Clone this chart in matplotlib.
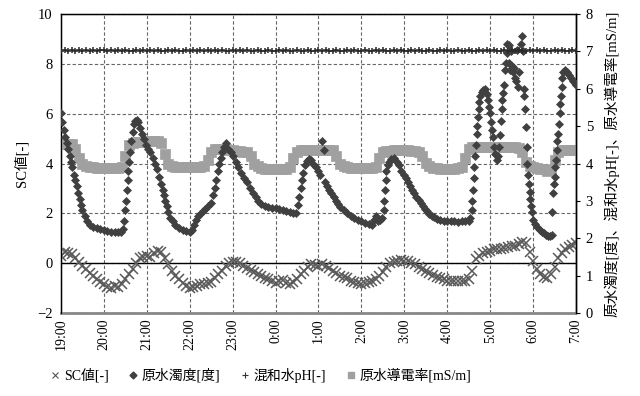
import numpy as np
import matplotlib
matplotlib.use("Agg")
import matplotlib.pyplot as plt
from matplotlib.lines import Line2D

plt.rcParams['font.family'] = ['Liberation Serif', 'Noto Sans CJK JP', 'DejaVu Sans']

# ---- data ----
tick_labels = ["19:00", "20:00", "21:00", "22:00", "23:00", "0:00", "1:00",
               "2:00", "3:00", "4:00", "5:00", "6:00", "7:00"]
minutes_5 = np.arange(0, 721, 5)  # minutes after 19:00, every 5 min

sc_value = [
    0.3, 0.45, 0.4, 0.35, 0.2, 0.05, -0.1, -0.25, -0.4, -0.5, -0.65, -0.75,
    -0.85, -0.95, -1.0, -0.9, -0.95, -0.85, -0.65, -0.45, -0.25, 0.0, 0.2, 0.25,
    0.3, 0.25, 0.4, 0.5, 0.45, 0.2, -0.05, -0.3, -0.5, -0.65, -0.8, -0.9,
    -1.0, -0.95, -0.9, -0.85, -0.85, -0.8, -0.75, -0.6, -0.45, -0.3, -0.12, 0.0,
    0.05, 0.05, 0.0, -0.1, -0.2, -0.28, -0.35, -0.45, -0.52, -0.6, -0.65, -0.72,
    -0.78, -0.7, -0.68, -0.78, -0.85, -0.75, -0.62, -0.45, -0.3, -0.15, -0.05, -0.08,
    -0.1, -0.05, -0.1, -0.2, -0.3, -0.4, -0.5, -0.55, -0.6, -0.7, -0.75, -0.8,
    -0.82, -0.8, -0.75, -0.72, -0.65, -0.5, -0.35, -0.15, 0.0, 0.05, 0.1, 0.12,
    0.1, 0.08, 0.02, -0.05, -0.15, -0.25, -0.32, -0.4, -0.48, -0.55, -0.6, -0.65,
    -0.7, -0.7, -0.72, -0.72, -0.7, -0.7, -0.65, -0.3, 0.15, 0.3, 0.4, 0.45,
    0.48, 0.55, 0.58, 0.55, 0.6, 0.65, 0.68, 0.7, 0.75, 0.85, 0.8, 0.45,
    0.1, -0.25, -0.45, -0.55, -0.6, -0.45, -0.15, 0.2, 0.42, 0.55, 0.65, 0.72,
    0.8,
]

conductivity = [
    4.52, 4.53, 4.53, 4.52, 4.4, 4.15, 3.98, 3.92, 3.9, 3.9, 3.88, 3.88,
    3.88, 3.88, 3.88, 3.88, 3.88, 3.9, 4.2, 4.5, 4.55, 4.57, 4.58, 4.58,
    4.59, 4.59, 4.6, 4.6, 4.55, 4.25, 4.0, 3.92, 3.9, 3.9, 3.9, 3.9,
    3.9, 3.9, 3.9, 3.9, 3.92, 4.1, 4.3, 4.38, 4.4, 4.4, 4.38, 4.36,
    4.35, 4.34, 4.33, 4.32, 4.3, 4.2, 4.0, 3.92, 3.88, 3.86, 3.85, 3.85,
    3.85, 3.85, 3.85, 3.85, 3.9, 4.15, 4.32, 4.35, 4.36, 4.36, 4.36, 4.36,
    4.37, 4.37, 4.37, 4.37, 4.35, 4.2, 4.0, 3.92, 3.9, 3.88, 3.88, 3.88,
    3.88, 3.87, 3.87, 3.87, 3.9, 4.15, 4.3, 4.33, 4.34, 4.35, 4.35, 4.35,
    4.35, 4.35, 4.34, 4.33, 4.3, 4.2, 4.02, 3.92, 3.88, 3.87, 3.86, 3.86,
    3.86, 3.86, 3.86, 3.87, 3.9, 4.15, 4.38, 4.44, 4.44, 4.44, 4.44, 4.44,
    4.44, 4.44, 4.44, 4.44, 4.44, 4.44, 4.44, 4.43, 4.42, 4.3, 4.05, 3.93,
    3.9, 3.88, 3.86, 3.84, 3.8, 3.82, 4.1, 4.32, 4.36, 4.36, 4.37, 4.37,
    4.37,
]

ph_value = [
    7.02, 7.04, 7.01, 7.03, 7.02, 7.05, 7.01, 7.03, 7.02, 7.04, 7.00, 7.03,
    7.03, 7.01, 7.04, 7.02, 7.03, 7.00, 7.04, 7.02, 7.01, 7.03, 7.02, 7.04,
    7.01, 7.03, 7.02, 7.05, 7.02, 7.01, 7.03, 7.02, 7.04, 7.01, 7.02, 7.03,
    7.02, 7.04, 7.01, 7.03, 7.02, 7.03, 7.00, 7.03, 7.02, 7.04, 7.01, 7.02,
    7.03, 7.01, 7.04, 7.02, 7.03, 7.01, 7.02, 7.04, 7.02, 7.01, 7.03, 7.02,
    7.02, 7.03, 7.01, 7.04, 7.02, 7.02, 7.03, 7.01, 7.02, 7.04, 7.02, 7.01,
    7.03, 7.02, 7.04, 7.01, 7.02, 7.03, 7.02, 7.01, 7.03, 7.02, 7.04, 7.02,
    7.01, 7.03, 7.02, 7.02, 7.04, 7.01, 7.03, 7.02, 7.01, 7.03, 7.02, 7.04,
    7.02, 7.01, 7.03, 7.02, 7.04, 7.01, 7.02, 7.03, 7.01, 7.02, 7.04, 7.02,
    7.03, 7.01, 7.02, 7.04, 7.02, 7.01, 7.03, 7.02, 7.02, 7.04, 7.01, 7.03,
    7.02, 7.04, 7.01, 7.02, 7.03, 7.02, 7.04, 7.01, 7.03, 7.02, 7.01, 7.03,
    7.02, 7.03, 7.01, 7.04, 7.02, 7.01, 7.03, 7.02, 7.04, 7.01, 7.02, 7.03,
    7.02,
]

turb_min = [
    0, 2, 4, 6, 8, 10, 12, 14, 16, 18, 20, 22, 24, 26, 28, 30, 33, 36, 40, 45,
    50, 55, 60, 65, 70, 75, 80, 84, 86, 88, 90, 91, 92, 93, 94, 95, 96, 98, 100, 102,
    104, 106, 108, 110, 113, 116, 119, 122, 125, 128, 131, 134, 137, 140, 142, 144, 146, 148, 150, 153,
    156, 160, 165, 170, 175, 180, 183, 186, 189, 192, 195, 198, 202, 206, 210, 213, 215, 217, 219, 221,
    223, 225, 228, 231, 234, 237, 240, 244, 248, 252, 256, 260, 264, 268, 272, 276, 280, 285, 290, 295,
    300, 305, 310, 315, 320, 325, 328, 331, 333, 335, 337, 339, 341, 344, 347, 350, 353, 356, 359, 362,
    365, 367, 369, 372, 375, 378, 381, 384, 387, 390, 395, 400, 405, 410, 415, 420, 425, 430, 435, 438,
    440, 443, 446, 449, 451, 452, 453, 454, 455, 457, 459, 462, 466, 470, 473, 476, 479, 482, 485, 488,
    491, 494, 497, 500, 503, 506, 509, 512, 515, 518, 521, 525, 530, 535, 540, 545, 550, 555, 560, 565,
    570, 572, 574, 575, 576, 577, 578, 579, 580, 581, 582, 583, 584, 585, 586, 588, 590, 593, 596, 597,
    599, 600, 601, 602, 604, 606, 607, 609, 611, 613, 614, 615, 616, 617, 618, 620, 621, 622, 623, 624,
    626, 627, 628, 629, 631, 632, 634, 635, 636, 637, 639, 641, 643, 645, 646, 647, 648, 649, 650, 651,
    652, 653, 654, 655, 656, 657, 658, 660, 663, 666, 669, 672, 675, 678, 681, 684, 686, 687, 688, 689,
    690, 691, 692, 693, 694, 695, 696, 697, 698, 699, 700, 701, 702, 704, 707, 710, 713, 716, 719, 720,
]
turb_val = [
    5.34, 5.1, 4.9, 4.7, 4.55, 4.4, 4.2, 4.05, 3.9, 3.7, 3.55, 3.4, 3.2, 3.05, 2.9, 2.75, 2.6, 2.45, 2.35, 2.29,
    2.27, 2.25, 2.22, 2.2, 2.18, 2.18, 2.16, 2.18, 2.25, 2.45, 2.75, 3.0, 3.3, 3.55, 3.8, 4.05, 4.3, 4.6, 4.85, 5.05,
    5.15, 5.16, 5.1, 4.95, 4.8, 4.65, 4.5, 4.4, 4.3, 4.15, 4.0, 3.85, 3.65, 3.45, 3.3, 3.15, 3.0, 2.85, 2.7, 2.55,
    2.45, 2.35, 2.28, 2.22, 2.2, 2.18, 2.22, 2.35, 2.5, 2.6, 2.65, 2.72, 2.78, 2.85, 2.95, 3.15, 3.35, 3.55, 3.8, 4.0,
    4.15, 4.3, 4.45, 4.54, 4.4, 4.3, 4.2, 4.05, 3.9, 3.75, 3.62, 3.5, 3.35, 3.22, 3.1, 3.0, 2.92, 2.87, 2.84, 2.82,
    2.8, 2.78, 2.76, 2.72, 2.7, 2.68, 2.67, 2.9, 3.1, 3.35, 3.55, 3.75, 3.95, 4.08, 4.12, 4.1, 4.0, 3.9, 3.8, 3.7,
    4.6, 4.35, 3.5, 3.4, 3.3, 3.2, 3.1, 3.0, 2.92, 2.84, 2.75, 2.68, 2.6, 2.55, 2.5, 2.46, 2.42, 2.38, 2.35, 2.5,
    2.6, 2.45, 2.5, 2.55, 2.75, 3.0, 3.3, 3.55, 3.8, 3.95, 4.05, 4.12, 4.14, 4.05, 3.95, 3.8, 3.7, 3.6, 3.5, 3.4,
    3.3, 3.2, 3.1, 3.02, 2.93, 2.85, 2.78, 2.72, 2.66, 2.6, 2.56, 2.52, 2.48, 2.46, 2.45, 2.45, 2.46, 2.44, 2.45, 2.46,
    2.45, 2.55, 2.75, 3.0, 3.3, 3.6, 3.9, 4.2, 4.5, 4.8, 5.0, 5.25, 5.45, 5.65, 5.8, 5.92, 5.98, 6.0, 5.85, 5.7,
    5.5, 5.35, 5.1, 4.9, 4.7, 4.45, 4.25, 4.1, 4.2, 4.45, 4.75, 5.15, 5.45, 5.7, 5.9, 6.1, 6.5, 6.7, 6.95, 7.2,
    7.18, 6.7, 6.5, 7.0, 6.6, 6.45, 6.55, 6.3, 6.2, 7.05, 6.05, 6.45, 7.2, 7.4, 7.0, 6.0, 5.8, 5.45, 4.98, 4.45,
    4.0, 3.7, 3.45, 3.25, 3.05, 2.85, 2.7, 2.5, 2.38, 2.3, 2.22, 2.18, 2.14, 2.1, 2.06, 2.05, 2.08, 2.7, 3.2, 3.45,
    3.65, 3.9, 4.1, 4.35, 4.6, 4.8, 5.05, 5.35, 5.6, 5.8, 6.05, 6.3, 6.45, 6.5, 6.45, 6.38, 6.3, 6.22, 6.15, 6.1,
]

labels = ["SC値[-]", "原水濁度[度]", "混和水pH[-]", "原水導電率[mS/m]"]

# ---- figure ----
fig = plt.figure(figsize=(6.4, 3.96), dpi=100)
ax = fig.add_axes([0.0953, 0.2096, 0.8047, 0.755])
ax2 = ax.twinx()

ax.set_xlim(0, 720)
ax.set_ylim(-2, 10)
ax2.set_ylim(0, 8)

ax.set_xticks(np.arange(0, 721, 60))
ax.set_xticklabels(tick_labels, rotation=90, fontsize=10)
ax.set_yticks(np.arange(-2, 11, 2))
ax.tick_params(axis='y', length=0, labelsize=10.5, pad=6)
ax.tick_params(axis='x', length=0, pad=4)
ax2.set_yticks(np.arange(0, 9, 1))
ax2.tick_params(axis='y', direction='out', length=3, labelsize=10.5, pad=4)

ax.grid(True, which='major', color='#666666', linestyle=(0, (3, 2)), linewidth=0.8)
ax.axhline(0, color='black', linewidth=1.0, zorder=2)

for sp in ['left', 'right', 'top']:
    ax.spines[sp].set_color('black')
    ax.spines[sp].set_linewidth(1.0)
ax.spines['bottom'].set_color('#888888')
ax.spines['bottom'].set_linewidth(2.0)
ax.spines['bottom'].set_linestyle((0, (2, 1)))
ax2.spines['bottom'].set_visible(False)
ax2.spines['right'].set_linewidth(1.0)

ax.plot(minutes_5, sc_value, linestyle='none', marker='x', markersize=6.5,
        markeredgewidth=1.1, color='#5a5a5a', zorder=3)

ax2.plot(minutes_5, conductivity, linestyle='none', marker='s', markersize=7,
         color='#a0a0a0', markeredgecolor='#a0a0a0', markeredgewidth=0.5, zorder=2)
ax2.plot(turb_min, turb_val, linestyle='none', marker='D', markersize=4.2,
         color='#404040', markeredgecolor='#404040', markeredgewidth=0.5, zorder=3)
ax2.plot(minutes_5, ph_value, linestyle='none', marker='+', markersize=4.5,
         markeredgewidth=1.1, color='#2a2a2a', zorder=4)

ax.set_ylabel(labels[0], fontsize=10.5, labelpad=6)
ax2.set_ylabel("原水濁度[度]、混和水pH[-]、原水導電率[mS/m]", fontsize=10.5, labelpad=8)

handles = [
    Line2D([], [], linestyle='none', marker='x', markersize=4, markeredgewidth=0.8, color='#555555'),
    Line2D([], [], linestyle='none', marker='D', markersize=3.5, color='#404040'),
    Line2D([], [], linestyle='none', marker='+', markersize=4, markeredgewidth=0.8, color='#333333'),
    Line2D([], [], linestyle='none', marker='s', markersize=4, color='#a0a0a0'),
]
fig.legend(handles, labels, loc='center', bbox_to_anchor=(0.406, 0.053), ncol=4,
           frameon=False, fontsize=10, handletextpad=0.1, columnspacing=1.3,
           handlelength=1.0)

fig.savefig("out.png", dpi=100)
